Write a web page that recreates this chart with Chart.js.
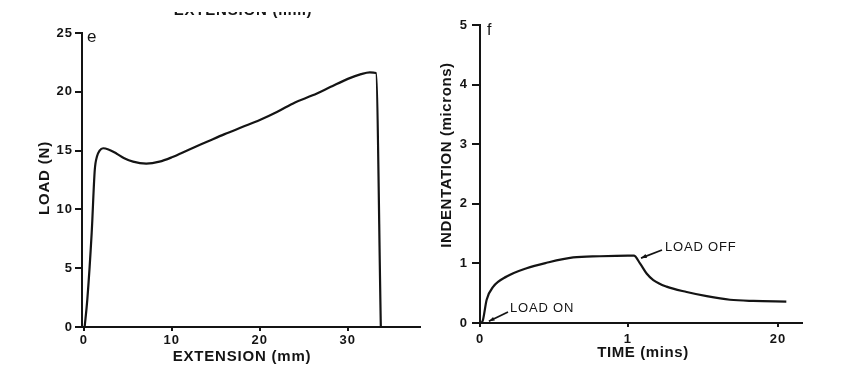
<!DOCTYPE html>
<html><head><meta charset="utf-8">
<script src="https://cdn.jsdelivr.net/npm/chart.js@4/dist/chart.umd.min.js"></script>
<style>
html,body{margin:0;padding:0;background:#fff;width:853px;height:382px;overflow:hidden}
#l{position:absolute;left:0;top:0}
#r{position:absolute;left:426px;top:0}
</style></head><body>
<canvas id="l" width="426" height="382"></canvas>
<canvas id="r" width="427" height="382"></canvas>
<script>
// ---- Panel e: load vs extension ----
const extensionMm = [0.1,0.4,0.9,1.25,1.5,1.8,2.2,2.8,3.7,4.6,5.6,7.1,8.6,10,12,14,16,18,20,22,24,26,28,30,31.5,32.5,33.2,33.75];
const loadN       = [0,2.3,8,13.35,14.5,15.0,15.2,15.1,14.76,14.35,14.06,13.9,14.06,14.43,15.1,15.75,16.4,17.0,17.6,18.3,19.1,19.7,20.4,21.1,21.5,21.65,21.6,0];
const loadTicks = [0,5,10,15,20,25];
const extensionTicks = [0,10,20,30];

// ---- Panel f: indentation vs time ----
const timeMins = [0.01,0.02,0.045,0.09,0.18,0.315,0.45,0.63,0.81,1.0,1.75,2.52,3.36,4.21,5.89,8.44,10.98,13.92,16.88,21.06];
const indentationMicrons = [0,0.05,0.39,0.61,0.78,0.92,1.01,1.10,1.12,1.13,1.13,1.0,0.83,0.72,0.61,0.52,0.45,0.39,0.37,0.36];
const indentTicks = [0,1,2,3,4,5];
const timeTicks = [0,1,20];

// time axis is broken: 0-1 min, then 1-20 min compressed into about the same width
const TAIL = 1.0135;
function timeToAxis(t){ return t <= 1 ? t : 1 + (t - 1) * TAIL / 19; }

const INK = '#141414';
const FONT = 'Liberation Sans, Arial, sans-serif';

const spacingPlugin = {
  id: 'spacing',
  beforeDraw(chart){ chart.ctx.letterSpacing = '1px'; }
};

function textPlugin(items){
  return {
    id: 'texts',
    afterDraw(chart){
      const ctx = chart.ctx;
      items.forEach(it => {
        ctx.save();
        ctx.fillStyle = INK;
        ctx.font = it.font;
        ctx.letterSpacing = it.ls || '0px';
        ctx.textAlign = it.align || 'center';
        ctx.textBaseline = it.base || 'middle';
        if (it.clipTop !== undefined) { ctx.beginPath(); ctx.rect(0, it.clipTop, chart.width, chart.height); ctx.clip(); }
        ctx.translate(it.x, it.y);
        if (it.rot) ctx.rotate(it.rot);
        ctx.fillText(it.text, 0, 0);
        ctx.restore();
      });
    }
  };
}
function arrowPlugin(arrows){
  return {
    id: 'arrows',
    afterDraw(chart){
      const ctx = chart.ctx;
      const xs = chart.scales.x, ys = chart.scales.y;
      arrows.forEach(a => {
        const tx = xs.getPixelForValue(timeToAxis(a.tipT)), ty = ys.getPixelForValue(a.tipV);
        ctx.save();
        ctx.strokeStyle = INK; ctx.fillStyle = INK; ctx.lineWidth = 1.8;
        ctx.beginPath(); ctx.moveTo(a.fromX, a.fromY); ctx.lineTo(tx, ty); ctx.stroke();
        const ang = Math.atan2(ty - a.fromY, tx - a.fromX);
        ctx.beginPath();
        ctx.moveTo(tx, ty);
        ctx.lineTo(tx - 6*Math.cos(ang-0.35), ty - 6*Math.sin(ang-0.35));
        ctx.lineTo(tx - 6*Math.cos(ang+0.35), ty - 6*Math.sin(ang+0.35));
        ctx.closePath(); ctx.fill();
        ctx.restore();
      });
    }
  };
}

function axisCommon(tickLen, pad){
  return {
    type: 'linear',
    grid: { display: true, drawOnChartArea: false, tickLength: tickLen, color: INK, lineWidth: 2 },
    border: { display: true, color: INK, width: 2 },
    ticks: { color: INK, font: { family: FONT, size: 13, weight: 'bold' }, padding: pad, maxRotation: 0, autoSkip: false }
  };
}

// Left chart
const lx = axisCommon(4, 2);
Object.assign(lx, { min: -0.2, max: 38.2,
  afterBuildTicks: s => { s.ticks = extensionTicks.map(v => ({ value: v })); },
  afterFit: s => { s.height = 55; } });
const ly = axisCommon(7, 2);
Object.assign(ly, { min: 0, max: 25,
  afterBuildTicks: s => { s.ticks = loadTicks.map(v => ({ value: v })); },
  afterFit: s => { s.width = 82; } });

new Chart(document.getElementById('l'), {
  type: 'line',
  data: { datasets: [{ data: extensionMm.map((x, i) => ({ x, y: loadN[i] })),
    borderColor: INK, borderWidth: 2.2, pointRadius: 0, cubicInterpolationMode: 'monotone', fill: false }] },
  options: {
    responsive: false, animation: false, devicePixelRatio: 1,
    layout: { padding: { left: 0, right: 6, top: 33, bottom: 0 } },
    plugins: { legend: { display: false }, tooltip: { enabled: false } },
    scales: { x: lx, y: ly }
  },
  plugins: [spacingPlugin, textPlugin([
    { text: 'e', x: 87, y: 37, align: 'left', font: '17px ' + FONT },
    { text: 'EXTENSION (mm)', x: 243, y: 14.5, base: 'alphabetic', clipTop: 12, font: 'bold 15px ' + FONT, ls: '0.8px' },
    { text: 'LOAD (N)', x: 45, y: 178, rot: -Math.PI/2, font: 'bold 15px ' + FONT, ls: '0.8px' },
    { text: 'EXTENSION (mm)', x: 242, y: 357, font: 'bold 15px ' + FONT, ls: '0.8px' }
  ])]
});

// Right chart
const rx = axisCommon(4, 5);
Object.assign(rx, { min: 0, max: 2.176,
  afterBuildTicks: s => { s.ticks = timeTicks.map(v => ({ value: timeToAxis(v) })); },
  afterFit: s => { s.height = 59; } });
rx.ticks.callback = (v, i) => String(timeTicks[i]);
const ry = axisCommon(8, 4);
Object.assign(ry, { min: 0, max: 5,
  afterBuildTicks: s => { s.ticks = indentTicks.map(v => ({ value: v })); },
  afterFit: s => { s.width = 54; } });

new Chart(document.getElementById('r'), {
  type: 'line',
  data: { datasets: [{ data: timeMins.map((t, i) => ({ x: timeToAxis(t), y: indentationMicrons[i] })),
    borderColor: INK, borderWidth: 2.2, pointRadius: 0, cubicInterpolationMode: 'monotone', fill: false }] },
  options: {
    responsive: false, animation: false, devicePixelRatio: 1,
    layout: { padding: { left: 0, right: 51, top: 25, bottom: 0 } },
    plugins: { legend: { display: false }, tooltip: { enabled: false } },
    scales: { x: rx, y: ry }
  },
  plugins: [spacingPlugin, textPlugin([
    { text: 'f', x: 61, y: 31, align: 'left', font: '16px ' + FONT },
    { text: 'INDENTATION (microns)', x: 21, y: 155, rot: -Math.PI/2, font: 'bold 15px ' + FONT, ls: '0.6px' },
    { text: 'TIME (mins)', x: 217, y: 353, font: 'bold 15px ' + FONT, ls: '0.6px' },
    { text: 'LOAD ON', x: 84, y: 308, align: 'left', font: '13px ' + FONT, ls: '0.8px' },
    { text: 'LOAD OFF', x: 239, y: 247, align: 'left', font: '13px ' + FONT, ls: '0.8px' }
  ]), arrowPlugin([
    { fromX: 82, fromY: 312, tipT: 0.06, tipV: 0.03 },
    { fromX: 236, fromY: 250, tipT: 2.65, tipV: 1.09 }
  ])]
});
</script>
</body></html>
